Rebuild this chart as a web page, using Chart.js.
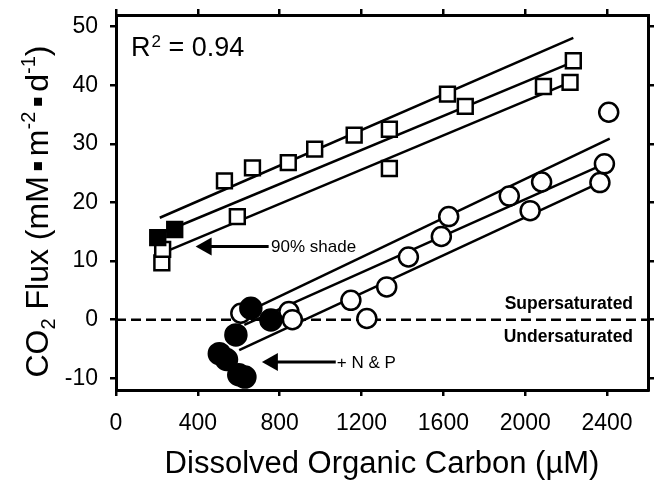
<!DOCTYPE html>
<html>
<head>
<meta charset="utf-8">
<script src="https://cdn.jsdelivr.net/npm/chart.js@4.4.1/dist/chart.umd.min.js"></script>
<style>
  html, body { margin: 0; padding: 0; background: #fff; }
  #wrap { position: relative; width: 661px; height: 489px; }
</style>
</head>
<body>
<div id="wrap"><canvas id="c" width="661" height="489"></canvas></div>
<script>
// DOC (uM) vs CO2 flux (mM m-2 d-1)
const xTickValues = [0, 400, 800, 1200, 1600, 2000, 2400];
const yTickValues = [-10, 0, 10, 20, 30, 40, 50];

const openSquareDOC  = [224, 228, 593, 530, 667, 842, 971, 1164, 1336, 1336, 1620, 1707, 2089, 2219, 2235];
const openSquareFlux = [9.7, 12.0, 17.6, 23.7, 25.9, 26.8, 29.1, 31.5, 32.5, 25.8, 38.5, 36.4, 39.8, 40.5, 44.2];
const shadeSquareDOC  = [204, 287];          // 90% shade
const shadeSquareFlux = [14.0, 15.4];

const openCircleDOC  = [610, 845, 862, 1148, 1226, 1323, 1429, 1590, 1626, 1922, 2024, 2080, 2365, 2387, 2408];
const openCircleFlux = [1.1, 1.4, 0.0, 3.3, 0.2, 5.6, 10.7, 14.2, 17.6, 21.1, 18.6, 23.5, 23.4, 26.6, 35.4];
const npCircleDOC  = [505, 540, 586, 600, 630, 659, 757];   // + N & P
const npCircleFlux = [-5.8, -6.8, -2.6, -9.4, -9.8, 1.95, -0.05];

// fitted lines, [start, end]
const squareFitX = [[214, 2235], [204, 2235], [228, 2219]];
const squareFitY = [[17.4, 48.1], [14.5, 44.0], [11.4, 40.5]];
const circleFitX = [[651, 2413], [627, 2387], [602, 2365]];
const circleFitY = [[1.5, 30.9], [-0.9, 26.6], [-5.2, 23.4]];

const zeroLineX = [0, 2600];
const zeroLineY = [0, 0];

const FONT = '"Liberation Sans", Arial, sans-serif';

const pts = (xs, ys) => xs.map((v, i) => ({ x: v, y: ys[i] }));

function markerSet(xs, ys, style, radius, fill) {
  return {
    data: pts(xs, ys),
    pointStyle: style,
    pointRadius: radius,
    pointBorderWidth: 2.5,
    pointBorderColor: '#000',
    pointBackgroundColor: fill,
    showLine: false,
    order: 0
  };
}

function fitSet(xs, ys) {
  return {
    data: pts(xs, ys),
    showLine: true,
    borderColor: '#000',
    borderWidth: 2.5,
    pointRadius: 0,
    order: 5
  };
}

const datasets = [
  markerSet(npCircleDOC, npCircleFlux, 'circle', 10.5, '#000'),
  markerSet(shadeSquareDOC, shadeSquareFlux, 'rect', 10.5, '#000'),
  markerSet(openCircleDOC, openCircleFlux, 'circle', 9.5, '#fff'),
  markerSet(openSquareDOC, openSquareFlux, 'rect', 10.5, '#fff'),
  ...squareFitX.map((xs, i) => fitSet(xs, squareFitY[i])),
  ...circleFitX.map((xs, i) => fitSet(xs, circleFitY[i])),
  Object.assign(fitSet(zeroLineX, zeroLineY), { borderDash: [10, 5], order: 6 })
];

// annotation anchors (data units)
const r2Pos = [73, 45.0];
const superPos = [2527, 2.7];
const underPos = [2527, -2.9];
const shadeArrowX = [746, 389];   // tail, tip
const shadeArrowY = 12.5;
const shadeLabelX = 758;
const npArrowX = [1074, 713];
const npArrowY = -7.2;
const npLabelX = 1079;

function arrow(ctx, x0, x1, yy) {
  ctx.lineWidth = 3;
  ctx.beginPath();
  ctx.moveTo(x0, yy);
  ctx.lineTo(x1 + 12, yy);
  ctx.stroke();
  ctx.beginPath();
  ctx.moveTo(x1, yy);
  ctx.lineTo(x1 + 16, yy - 9);
  ctx.lineTo(x1 + 16, yy + 9);
  ctx.closePath();
  ctx.fill();
}

const notes = {
  id: 'notes',
  afterDraw(chart) {
    const { ctx, scales: { x, y } } = chart;
    ctx.save();
    ctx.fillStyle = '#000';
    ctx.strokeStyle = '#000';

    // R^2 = 0.94
    let px = x.getPixelForValue(r2Pos[0]), py = y.getPixelForValue(r2Pos[1]);
    ctx.textAlign = 'left';
    ctx.textBaseline = 'alphabetic';
    ctx.font = '27px ' + FONT;
    ctx.fillText('R', px, py);
    let w = ctx.measureText('R').width;
    ctx.font = '17px ' + FONT;
    ctx.fillText('2', px + w + 1, py - 9);
    w += ctx.measureText('2').width + 1;
    ctx.font = '27px ' + FONT;
    ctx.fillText(' = 0.94', px + w, py);

    // saturation labels
    ctx.font = 'bold 17.5px ' + FONT;
    ctx.textAlign = 'right';
    ctx.textBaseline = 'middle';
    ctx.fillText('Supersaturated', x.getPixelForValue(superPos[0]), y.getPixelForValue(superPos[1]));
    ctx.fillText('Undersaturated', x.getPixelForValue(underPos[0]), y.getPixelForValue(underPos[1]));

    // arrows + labels
    ctx.font = '17px ' + FONT;
    ctx.textAlign = 'left';
    let ay = y.getPixelForValue(shadeArrowY);
    arrow(ctx, x.getPixelForValue(shadeArrowX[0]), x.getPixelForValue(shadeArrowX[1]), ay);
    ctx.fillText('90% shade', x.getPixelForValue(shadeLabelX), ay + 1);
    ay = y.getPixelForValue(npArrowY);
    arrow(ctx, x.getPixelForValue(npArrowX[0]), x.getPixelForValue(npArrowX[1]), ay);
    ctx.fillText('+ N & P', x.getPixelForValue(npLabelX), ay + 1);

    // y title with sub/superscripts
    const big = '32px ' + FONT, small = '20px ' + FONT;
    const parts = [
      { t: 'CO', f: big, dy: 0 },
      { t: '2', f: small, dy: 7 },
      { t: ' Flux (mM', f: big, dy: 0 },
      { sq: true },
      { t: 'm', f: big, dy: 0 },
      { t: '-2', f: small, dy: -13 },
      { sq: true },
      { t: 'd', f: big, dy: 0 },
      { t: '-1', f: small, dy: -13 },
      { t: ')', f: big, dy: 0 }
    ];
    const SQ = 8, SQPAD = 6;
    let total = 0;
    parts.forEach(p => {
      if (p.sq) { p.w = SQ + 2 * SQPAD; }
      else { ctx.font = p.f; p.w = ctx.measureText(p.t).width; }
      total += p.w;
    });
    ctx.translate(48, (chart.chartArea.top + chart.chartArea.bottom) / 2 + 9);
    ctx.rotate(-Math.PI / 2);
    ctx.textAlign = 'left';
    ctx.textBaseline = 'alphabetic';
    let cx = -total / 2;
    parts.forEach(p => {
      if (p.sq) {
        ctx.fillRect(cx + SQPAD, -14, SQ, SQ);
      } else {
        ctx.font = p.f;
        ctx.fillText(p.t, cx, p.dy);
      }
      cx += p.w;
    });
    ctx.restore();
  }
};

const gridOpts = {
  drawOnChartArea: false,
  drawTicks: true,
  tickLength: 6,
  color: '#000',
  lineWidth: 2.5
};
const borderOpts = { display: true, color: '#000', width: 3 };
const tickFont = { family: FONT, size: 23 };
const noPad = a => { a.paddingTop = 0; a.paddingBottom = 0; a.paddingLeft = 0; a.paddingRight = 0; };

new Chart(document.getElementById('c'), {
  type: 'scatter',
  data: { datasets },
  plugins: [notes],
  options: {
    responsive: false,
    animation: false,
    devicePixelRatio: 1,
    layout: { padding: { top: 15, right: 10, left: 0, bottom: 0 } },
    plugins: { legend: { display: false }, tooltip: { enabled: false } },
    scales: {
      x: {
        type: 'linear', position: 'bottom', min: 0, max: 2600,
        afterBuildTicks: a => { a.ticks = xTickValues.map(v => ({ value: v })); },
        afterFit: a => { a.height = 99; noPad(a); },
        ticks: { color: '#000', font: tickFont, padding: 14, maxRotation: 0, callback: v => String(v) },
        grid: gridOpts, border: borderOpts,
        title: {
          display: true, text: 'Dissolved Organic Carbon (\u00b5M)', color: '#000',
          font: { family: FONT, size: 31 }, padding: { top: 0, bottom: 6 }
        }
      },
      x2: {
        type: 'linear', position: 'top', min: 0, max: 2600,
        afterBuildTicks: a => { a.ticks = xTickValues.map(v => ({ value: v })); },
        afterFit: a => { a.height = 0; noPad(a); },
        ticks: { display: false },
        grid: gridOpts, border: borderOpts
      },
      y: {
        type: 'linear', position: 'left', min: -12, max: 52,
        afterBuildTicks: a => { a.ticks = yTickValues.map(v => ({ value: v })); },
        afterFit: a => { a.width = 116; noPad(a); },
        ticks: { color: '#000', font: tickFont, padding: 12, callback: v => String(v) },
        grid: gridOpts, border: borderOpts
      },
      y2: {
        type: 'linear', position: 'right', min: -12, max: 52,
        afterBuildTicks: a => { a.ticks = yTickValues.map(v => ({ value: v })); },
        afterFit: a => { a.width = 0; noPad(a); },
        ticks: { display: false },
        grid: gridOpts, border: borderOpts
      }
    }
  }
});
</script>
</body>
</html>
